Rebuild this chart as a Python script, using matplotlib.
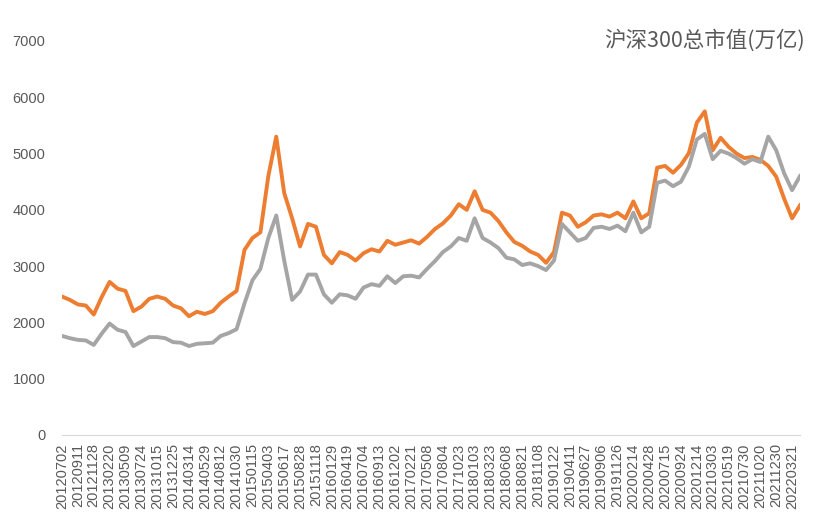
import numpy as np
import matplotlib
matplotlib.use('Agg')
import matplotlib.pyplot as plt

plt.rcParams['font.family'] = ['Liberation Sans', 'Noto Sans CJK SC', 'DejaVu Sans']

# 横轴日期标签（每个刻度一个）
tick_labels = ['20120702', '20120911', '20121128', '20130220', '20130509', '20130724',
               '20131015', '20131225', '20140314', '20140529', '20140812', '20141030',
               '20150115', '20150403', '20150617', '20150828', '20151118', '20160129',
               '20160419', '20160704', '20160913', '20161202', '20170221', '20170508',
               '20170804', '20171023', '20180103', '20180323', '20180608', '20180821',
               '20181108', '20190122', '20190411', '20190627', '20190906', '20191126',
               '20200214', '20200428', '20200715', '20200924', '20201214', '20210303',
               '20210519', '20210730', '20211020', '20211230', '20220321']

# 两条序列，每半个刻度取一个值
orange_vals = [2460, 2400, 2320, 2300, 2140, 2450, 2720, 2600, 2560, 2200,
               2280, 2420, 2460, 2420, 2300, 2250, 2110, 2190, 2150, 2200,
               2350, 2460, 2560, 3290, 3500, 3600, 4600, 5300, 4300, 3850,
               3350, 3750, 3700, 3200, 3050, 3250, 3200, 3100, 3230, 3300,
               3260, 3450, 3380, 3420, 3460, 3400, 3520, 3660, 3760, 3900,
               4100, 4000, 4330, 4000, 3950, 3800, 3600, 3430, 3360, 3260,
               3200, 3060, 3250, 3950, 3900, 3700, 3780, 3900, 3920, 3880,
               3950, 3850, 4150, 3850, 3940, 4750, 4780, 4660, 4800, 5010,
               5550, 5750, 5060, 5280, 5120, 5000, 4920, 4940, 4890, 4780,
               4590, 4200, 3850, 4080]

gray_vals = [1760, 1720, 1690, 1680, 1600, 1800, 1980, 1870, 1830, 1580,
             1660, 1740, 1740, 1720, 1650, 1640, 1580, 1620, 1630, 1640,
             1760, 1810, 1880, 2340, 2750, 2950, 3500, 3900, 3100, 2400,
             2550, 2850, 2850, 2500, 2350, 2500, 2480, 2420, 2620, 2680,
             2650, 2820, 2700, 2820, 2830, 2800, 2950, 3090, 3250, 3350,
             3500, 3450, 3850, 3500, 3420, 3320, 3150, 3120, 3020, 3050,
             3000, 2930, 3100, 3750, 3600, 3450, 3500, 3680, 3700, 3660,
             3720, 3620, 3950, 3600, 3700, 4480, 4520, 4420, 4500, 4770,
             5250, 5350, 4900, 5050, 5000, 4920, 4820, 4900, 4850, 5300,
             5060, 4650, 4350, 4600]

x = np.arange(len(orange_vals)) * 0.5

fig = plt.figure(figsize=(8.22, 5.29), dpi=100)
ax = fig.add_axes([62 / 822, 1 - 435 / 529, (800 - 62) / 822, (435 - 41) / 529])

ax.plot(x, orange_vals, color='#ED7D31', linewidth=2.8, solid_joinstyle='round')
ax.plot(x, gray_vals, color='#A5A5A5', linewidth=2.8, solid_joinstyle='round')

ax.set_xlim(0, x[-1])
ax.set_ylim(0, 7000)
ax.set_yticks(range(0, 7001, 1000))
ax.set_xticks(range(len(tick_labels)))
ax.set_xticklabels(tick_labels, rotation=90)

for s in ['top', 'right', 'left']:
    ax.spines[s].set_visible(False)
ax.spines['bottom'].set_color('#D9D9D9')
ax.tick_params(axis='both', length=0, colors='#595959', labelsize=10.5)
ax.tick_params(axis='y', pad=12)
ax.tick_params(axis='x', pad=6)

fig.text(805 / 822, 1 - 40 / 529, '沪深300总市值(万亿)', ha='right', va='center',
         fontsize=15.5, color='#595959', family=['Noto Sans CJK SC', 'DejaVu Sans'])

fig.savefig('out.png', dpi=100)
